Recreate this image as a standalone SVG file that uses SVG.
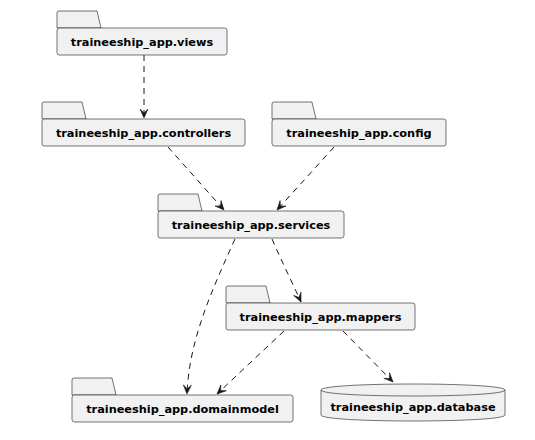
<svg xmlns="http://www.w3.org/2000/svg" width="535" height="440" viewBox="0 0 535 440">
<defs>
<style>
.box{fill:#F1F1F1;stroke:#181818;stroke-width:0.6}
.lbl{font-family:"DejaVu Sans",sans-serif;font-weight:bold;font-size:11.3px;fill:#000;text-anchor:middle}
.edge{fill:none;stroke:#181818;stroke-width:1;stroke-dasharray:6,5}
</style>
<marker id="ah" markerUnits="userSpaceOnUse" markerWidth="12" markerHeight="12" viewBox="-10 -6 12 12" refX="0" refY="0" orient="auto">
<path d="M0,0 L-9,-4 L-5,0 L-9,4 Z" fill="#181818" stroke="#181818" stroke-width="0.6"/>
</marker>
</defs>
<rect width="535" height="440" fill="#FFFFFF"/>
<g id="connectors">
<path class="edge" d="M144,55 L144,118" marker-end="url(#ah)"/>
<path class="edge" d="M168,147 L224,210" marker-end="url(#ah)"/>
<path class="edge" d="M334,147 L277,210" marker-end="url(#ah)"/>
<path class="edge" d="M272,239 C282,262 292,282 301,302" marker-end="url(#ah)"/>
<path class="edge" d="M235,239 C212,290 189,340 187,394" marker-end="url(#ah)"/>
<path class="edge" d="M284,331 L217,394" marker-end="url(#ah)"/>
<path class="edge" d="M343,331 L393,382" marker-end="url(#ah)"/>
</g>
<g id="views">
<path class="box" d="M57,28 L57,13 Q57,11 59,11 L97,11 L101,28 Z"/>
<rect class="box" x="57" y="28" width="170" height="27" rx="2.5"/>
<text class="lbl" x="142" y="45.5">traineeship_app.views</text>
</g>
<g id="controllers">
<path class="box" d="M42,119 L42,104 Q42,102 44,102 L82,102 L86,119 Z"/>
<rect class="box" x="42" y="119" width="203" height="27" rx="2.5"/>
<text class="lbl" x="143.5" y="136.5">traineeship_app.controllers</text>
</g>
<g id="config">
<path class="box" d="M272,119 L272,104 Q272,102 274,102 L312,102 L316,119 Z"/>
<rect class="box" x="272" y="119" width="174" height="27" rx="2.5"/>
<text class="lbl" x="359" y="136.5">traineeship_app.config</text>
</g>
<g id="services">
<path class="box" d="M158,211 L158,196 Q158,194 160,194 L198,194 L202,211 Z"/>
<rect class="box" x="158" y="211" width="186" height="27" rx="2.5"/>
<text class="lbl" x="251" y="228.5">traineeship_app.services</text>
</g>
<g id="mappers">
<path class="box" d="M226,303 L226,288 Q226,286 228,286 L266,286 L270,303 Z"/>
<rect class="box" x="226" y="303" width="189" height="27" rx="2.5"/>
<text class="lbl" x="320.5" y="320.5">traineeship_app.mappers</text>
</g>
<g id="domainmodel">
<path class="box" d="M72,395 L72,380 Q72,378 74,378 L112,378 L116,395 Z"/>
<rect class="box" x="72" y="395" width="221" height="27" rx="2.5"/>
<text class="lbl" x="182.5" y="412.5">traineeship_app.domainmodel</text>
</g>
<g id="database">
<path class="box" d="M321,390 C321,382 505,382 505,390 L505,415 C505,423 321,423 321,415 Z"/>
<path fill="none" stroke="#181818" stroke-width="0.6" d="M321,390 C321,398 505,398 505,390"/>
<text class="lbl" x="413" y="411">traineeship_app.database</text>
</g>
</svg>
